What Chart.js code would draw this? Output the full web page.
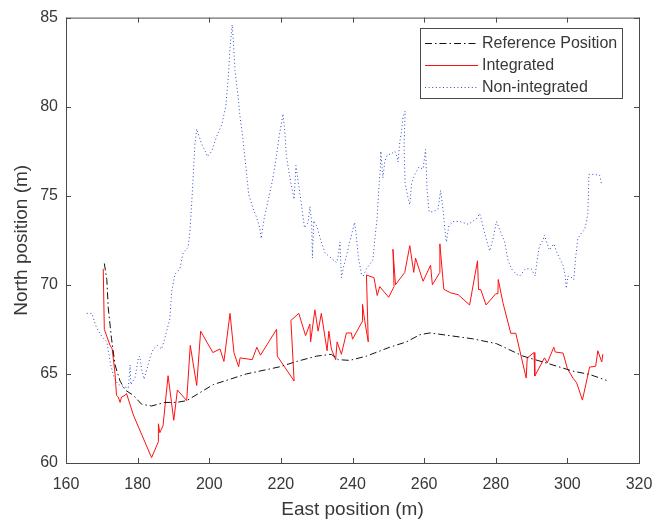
<!DOCTYPE html>
<html>
<head>
<meta charset="utf-8">
<script src="https://cdn.jsdelivr.net/npm/chart.js@4.4.1/dist/chart.umd.min.js"></script>
<style>
  html, body { margin: 0; padding: 0; background: #fff; }
  canvas { display: block; }
</style>
</head>
<body>
<canvas id="posChart" width="666" height="525"></canvas>
<script>
// East / North positions (m)
const referencePos = [
  [170.7, 71.2], [171.4, 70.3], [171.8, 68.7], [172.7, 67.0], [173.7, 65.5], [175.1, 64.6],
  [176.5, 64.1], [178.8, 63.8], [181.1, 63.3], [183.9, 63.2], [187.6, 63.4], [190.9, 63.4],
  [193.7, 63.5], [201.1, 64.4], [210.4, 65.0], [219.7, 65.4], [224.4, 65.7], [230.0, 66.0],
  [234.1, 66.1], [236.0, 65.8], [239.2, 65.76], [243.9, 66.0], [250.4, 66.5], [255.1, 66.8],
  [258.8, 67.2], [261.6, 67.3], [267.1, 67.15], [273.6, 66.97], [280.2, 66.7], [287.6, 66.0],
  [295.0, 65.56], [301.5, 65.16], [306.2, 64.97], [310.9, 64.64]
];

const integrated = [
  [170.4, 70.9], [170.7, 67.5], [172.3, 66.6], [172.9, 66.4], [173.7, 65.0], [174.1, 63.8],
  [174.6, 63.7], [175.1, 63.4], [175.5, 63.7], [176.5, 63.8], [176.9, 63.9], [178.8, 62.7],
  [183.9, 60.3], [185.8, 61.2], [185.8, 62.2], [186.2, 61.7], [187.1, 62.1], [188.5, 64.9],
  [190.1, 62.4], [191.1, 64.1], [193.7, 63.5], [194.7, 66.6], [196.5, 64.35], [197.6, 67.4],
  [201.0, 66.2], [203.0, 66.4], [204.1, 65.7], [205.8, 68.4], [206.9, 66.2], [208.2, 65.4],
  [208.6, 65.9], [212.0, 65.8], [213.3, 66.5], [214.3, 66.05], [218.8, 67.5], [219.0, 66.0],
  [223.7, 64.6], [222.8, 68.0], [225.0, 68.4], [226.9, 67.15], [228.1, 67.8], [228.3, 66.8],
  [229.5, 68.6], [230.4, 67.4], [231.3, 68.4], [232.9, 66.3], [233.4, 67.4], [234.1, 66.4],
  [235.3, 65.8], [235.7, 66.8], [236.9, 66.1], [238.3, 67.3], [239.7, 67.3], [240.0, 66.95],
  [242.9, 68.0], [242.8, 68.9], [243.4, 68.0], [244.4, 66.8], [243.9, 70.55], [246.0, 70.4],
  [246.9, 69.4], [247.6, 69.9], [250.1, 69.3], [251.6, 69.9], [251.3, 72.0], [252.0, 70.0],
  [254.6, 70.7], [256.0, 72.2], [257.1, 70.7], [257.6, 71.5], [259.7, 70.2], [261.8, 71.1],
  [262.3, 70.0], [264.4, 70.7], [264.4, 72.3], [265.5, 69.75], [267.4, 69.55], [269.5, 69.45],
  [272.7, 68.87], [274.9, 71.35], [275.2, 69.74], [275.8, 69.74], [277.3, 68.87], [280.0, 69.5],
  [280.6, 69.5], [280.7, 70.3], [282.0, 69.0], [284.2, 67.28], [285.6, 67.28], [288.5, 64.77],
  [288.8, 65.9], [290.7, 66.2], [290.9, 64.88], [293.6, 65.9], [294.4, 65.62], [296.2, 66.5],
  [296.6, 66.23], [298.8, 66.17], [300.0, 65.3], [301.6, 64.75], [302.6, 64.5], [304.2, 63.53],
  [306.2, 65.38], [307.9, 65.43], [308.5, 66.3], [309.6, 65.67], [309.9, 66.11]
];

const nonIntegrated = [
  [165.8, 68.4], [167.2, 68.4], [168.5, 67.6], [170.0, 67.1], [171.4, 66.8], [171.8, 66.3],
  [172.5, 65.5], [173.4, 64.8], [174.6, 64.4], [176.0, 64.3], [177.4, 64.2], [177.9, 65.5],
  [178.1, 64.4], [179.3, 64.8], [180.2, 65.9], [180.6, 66.0], [181.1, 65.3], [181.8, 64.7],
  [182.5, 65.2], [183.6, 66.0], [184.4, 66.4], [185.5, 66.6], [186.7, 66.4], [187.6, 67.0],
  [189.0, 68.1], [189.5, 69.6], [190.4, 70.6], [191.8, 70.9], [192.7, 71.8], [194.1, 72.1],
  [194.6, 73.0], [195.1, 74.6], [195.5, 76.0], [196.0, 77.9], [196.5, 78.75], [196.9, 78.5],
  [197.9, 77.9], [198.9, 77.5], [199.5, 77.2], [200.7, 77.5], [202.0, 78.3], [203.5, 79.0],
  [204.6, 80.0], [205.3, 81.6], [205.8, 83.3], [206.4, 84.6], [206.7, 83.8], [207.2, 82.0],
  [208.1, 80.5], [208.5, 79.6], [209.4, 78.2], [210.2, 76.7], [211.0, 75.1], [212.2, 74.3],
  [213.2, 73.8], [214.1, 73.2], [214.5, 72.6], [215.2, 73.6], [216.5, 74.8], [217.6, 75.8],
  [218.6, 77.0], [219.5, 78.3], [220.6, 79.6], [221.1, 78.6], [221.5, 77.3], [222.2, 76.4],
  [222.9, 75.6], [223.7, 74.8], [224.2, 76.7], [224.7, 76.0], [225.8, 74.4], [226.6, 73.2],
  [227.6, 73.5], [228.1, 74.4], [228.6, 73.5], [228.8, 71.5], [229.2, 73.6], [230.0, 73.3],
  [231.3, 72.4], [232.3, 71.8], [233.5, 71.6], [235.5, 71.25], [236.0, 71.6], [236.5, 72.4],
  [236.9, 70.4], [237.5, 71.0], [238.3, 71.6], [239.2, 72.4], [240.6, 73.5], [241.1, 72.7],
  [241.6, 71.6], [242.5, 70.6], [243.0, 70.5], [243.9, 70.9], [245.7, 71.4], [246.2, 72.5],
  [246.9, 73.8], [247.3, 75.3], [247.8, 76.6], [247.9, 77.5], [248.5, 76.0], [249.0, 76.9],
  [249.7, 77.3], [250.8, 77.35], [251.8, 77.5], [252.4, 77.2], [252.7, 76.9], [253.2, 78.0],
  [253.7, 78.65], [254.1, 79.4], [254.7, 79.75], [254.4, 77.8], [254.7, 75.7], [255.5, 74.9],
  [256.0, 74.5], [256.5, 75.7], [257.4, 76.2], [258.5, 76.6], [259.7, 76.5], [260.4, 77.6],
  [260.8, 75.4], [261.4, 74.1], [262.5, 74.1], [263.9, 74.25], [264.6, 75.3], [265.3, 74.2],
  [265.7, 73.3], [266.2, 72.4], [266.9, 73.3], [268.1, 73.55], [269.9, 73.56], [272.3, 73.4],
  [274.6, 73.7], [275.5, 74.0], [276.0, 73.65], [276.9, 72.9], [278.3, 71.9], [279.2, 72.55],
  [280.2, 73.56], [281.1, 73.1], [282.5, 72.4], [283.4, 71.4], [284.4, 70.9], [285.7, 70.6],
  [286.7, 70.5], [288.3, 70.9], [289.9, 70.9], [291.0, 70.5], [291.5, 71.3], [292.0, 72.0],
  [292.5, 72.3], [293.2, 72.5], [293.6, 72.8], [294.1, 72.45], [295.0, 71.95], [296.2, 72.3],
  [297.1, 71.8], [298.8, 71.1], [299.4, 70.5], [299.7, 69.8], [300.2, 70.5], [301.3, 70.4],
  [301.8, 70.3], [302.3, 71.5], [302.9, 72.6], [303.9, 72.9], [304.8, 73.1], [305.3, 73.5],
  [305.7, 74.0], [305.9, 75.1], [306.0, 76.2], [307.6, 76.2], [309.0, 76.15], [309.3, 75.9],
  [309.6, 75.6]
];

const seriesNames = ['Reference Position', 'Integrated', 'Non-integrated'];
const xTicks = [160, 180, 200, 220, 240, 260, 280, 300, 320];
const yTicks = [60, 65, 70, 75, 80, 85];

const FONT = "'Liberation Sans', Arial, Helvetica, sans-serif";
const AXIS_COLOR = '#4a4a4a';
const TEXT_COLOR = '#383838';

const toXY = pts => pts.map(p => ({ x: p[0], y: p[1] }));

// matlab-style box: outline + ticks pointing inward on all four sides
const boxAxes = {
  id: 'boxAxes',
  afterDraw(chart) {
    const { ctx, chartArea: a, scales } = chart;
    const len = 5;
    ctx.save();
    ctx.strokeStyle = AXIS_COLOR;
    ctx.lineWidth = 1;
    ctx.strokeRect(a.left + 0.5, a.top + 0.5, a.right - a.left, a.bottom - a.top);
    ctx.beginPath();
    xTicks.forEach(v => {
      const px = Math.round(scales.x.getPixelForValue(v)) + 0.5;
      ctx.moveTo(px, a.bottom); ctx.lineTo(px, a.bottom - len);
      ctx.moveTo(px, a.top); ctx.lineTo(px, a.top + len);
    });
    yTicks.forEach(v => {
      const py = Math.round(scales.y.getPixelForValue(v)) + 0.5;
      ctx.moveTo(a.left, py); ctx.lineTo(a.left + len, py);
      ctx.moveTo(a.right, py); ctx.lineTo(a.right - len, py);
    });
    ctx.stroke();
    ctx.restore();
  }
};

// legend box in the upper right corner of the axes
const boxLegend = {
  id: 'boxLegend',
  afterDraw(chart) {
    const { ctx } = chart;
    const x0 = 420, y0 = 28, w = 202, h = 70;
    ctx.save();
    ctx.fillStyle = '#fff';
    ctx.fillRect(x0, y0, w, h);
    ctx.strokeStyle = AXIS_COLOR;
    ctx.lineWidth = 1;
    ctx.strokeRect(x0 + 0.5, y0 + 0.5, w, h);
    ctx.font = '16px ' + FONT;
    ctx.textBaseline = 'middle';
    chart.data.datasets.forEach((ds, i) => {
      const yy = y0 + 15.5 + i * 22;
      ctx.strokeStyle = ds.borderColor;
      ctx.lineWidth = ds.borderWidth;
      ctx.setLineDash(ds.borderDash || []);
      ctx.beginPath();
      ctx.moveTo(x0 + 5, yy);
      ctx.lineTo(x0 + 58, yy);
      ctx.stroke();
      ctx.setLineDash([]);
      ctx.fillStyle = TEXT_COLOR;
      ctx.fillText(ds.label, x0 + 62, yy);
    });
    ctx.restore();
  }
};

new Chart(document.getElementById('posChart'), {
  type: 'scatter',
  data: {
    datasets: [
      {
        label: seriesNames[0],
        data: toXY(referencePos),
        showLine: true,
        borderColor: '#111111',
        borderWidth: 1,
        borderDash: [7, 3, 1.5, 3],
        pointRadius: 0,
        order: 0
      },
      {
        label: seriesNames[1],
        data: toXY(integrated),
        showLine: true,
        borderColor: '#ff1010',
        borderWidth: 1,
        pointRadius: 0,
        order: 1
      },
      {
        label: seriesNames[2],
        data: toXY(nonIntegrated),
        showLine: true,
        borderColor: '#2a48c8',
        borderWidth: 1,
        borderDash: [1, 2.6],
        pointRadius: 0,
        order: 2
      }
    ]
  },
  options: {
    responsive: false,
    animation: false,
    layout: { padding: { top: 12, right: 27, left: 0, bottom: 0 } },
    plugins: {
      legend: { display: false },
      tooltip: { enabled: false }
    },
    scales: {
      x: {
        type: 'linear',
        min: 160,
        max: 320,
        afterBuildTicks: s => { s.ticks = xTicks.map(v => ({ value: v })); },
        afterFit: s => { s.height = 62; },
        grid: { display: false, drawTicks: false },
        border: { display: false },
        ticks: { padding: 12, color: TEXT_COLOR, font: { family: FONT, size: 16 } },
        title: {
          display: true,
          text: 'East position (m)',
          color: TEXT_COLOR,
          font: { family: FONT, size: 19 },
          padding: { top: 0, bottom: 4 }
        }
      },
      y: {
        type: 'linear',
        min: 60,
        max: 85,
        afterBuildTicks: s => { s.ticks = yTicks.map(v => ({ value: v })); },
        afterFit: s => { s.width = 66; },
        grid: { display: false, drawTicks: false },
        border: { display: false },
        ticks: { padding: 8, color: TEXT_COLOR, font: { family: FONT, size: 16 } },
        title: {
          display: true,
          text: 'North position (m)',
          color: TEXT_COLOR,
          font: { family: FONT, size: 19 },
          padding: { top: 10, bottom: 0 }
        }
      }
    }
  },
  plugins: [boxAxes, boxLegend]
});
</script>
</body>
</html>
